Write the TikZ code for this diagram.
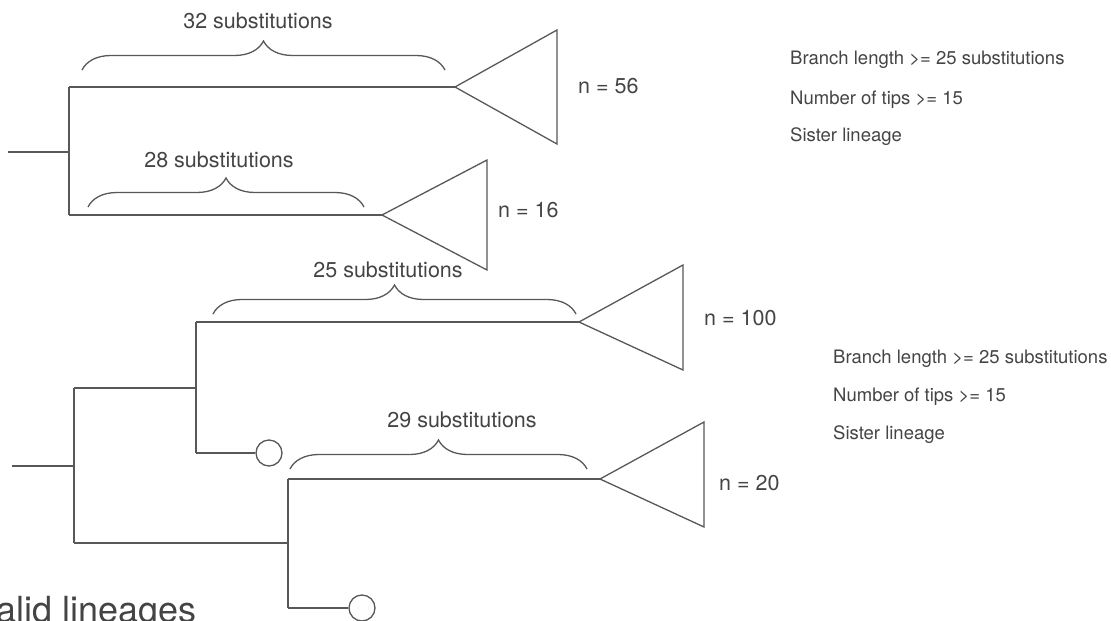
\documentclass[tikz,border=0pt]{standalone}
\usepackage{fontspec}
\setmainfont{TeX Gyre Heros}
\usetikzlibrary{decorations.pathreplacing}
\definecolor{treegray}{HTML}{585858}
\definecolor{textgray}{HTML}{444444}

\begin{document}
\begin{tikzpicture}[x=1pt,y=-1pt]
	\tikzstyle{every node}+=[inner sep=0pt, text=textgray]
	\tikzstyle{branch}=[draw=treegray, line width=1.3pt]
	\tikzstyle{subbrace}=[draw=treegray, line width=1.3pt, decorate, decoration={brace, amplitude=29pt}]
	\tikzstyle{sublabel}=[anchor=base, font=\fontsize{21.5}{25}\selectfont]
	\tikzstyle{countlabel}=[anchor=west, font=\fontsize{21.5}{25}\selectfont]
	\tikzstyle{rule}=[anchor=base west, font=\fontsize{18.5}{22}\selectfont]
	\tikzstyle{tipcircle}=[circle, draw=treegray, line width=1.3pt, fill=white, minimum size=26pt]
	\useasboundingbox (0,0) rectangle (1111,621);
	% upper tree
	\coordinate (r1) at (8,152);
	\coordinate (a1) at (69,152);
	\coordinate (a1u) at (69,87);
	\coordinate (a1d) at (69,215);
	\coordinate (t1) at (455,87);
	\coordinate (t2) at (382,215);
	\draw [branch] (r1) -- (a1);
	\draw [branch] (a1u) -- (a1d);
	\draw [branch] (a1u) -- (t1);
	\draw [branch] (a1d) -- (t2);
	\draw [branch] (t1) -- (557,30) -- (557,144) -- cycle;
	\draw [branch] (t2) -- (487,160) -- (487,270) -- cycle;
	\draw [subbrace] (82,70) -- (445,70);
	\draw [subbrace] (88,207) -- (364,207);
	\node [sublabel] (l32) at (258,28) {32 substitutions};
	\node [sublabel] (l28) at (219,167) {28 substitutions};
	\node [countlabel] (n56) at (578,86) {n = 56};
	\node [countlabel] (n16) at (498,210) {n = 16};
	% lower tree
	\coordinate (r2) at (12,466);
	\coordinate (a2) at (74,466);
	\coordinate (a2u) at (74,388);
	\coordinate (a2d) at (74,543);
	\coordinate (b1) at (196,388);
	\coordinate (b1u) at (196,322);
	\coordinate (b1d) at (196,453);
	\coordinate (b2) at (288,543);
	\coordinate (b2u) at (288,479);
	\coordinate (b2d) at (288,608);
	\coordinate (t3) at (579,322);
	\coordinate (t4) at (600,479);
	\node [tipcircle] (c1) at (269,453) {};
	\node [tipcircle] (c2) at (362,608) {};
	\draw [branch] (r2) -- (a2);
	\draw [branch] (a2u) -- (a2d);
	\draw [branch] (a2u) -- (b1);
	\draw [branch] (a2d) -- (b2);
	\draw [branch] (b1u) -- (b1d);
	\draw [branch] (b2u) -- (b2d);
	\draw [branch] (b1u) -- (t3);
	\draw [branch] (b2u) -- (t4);
	\draw [branch] (b1d) -- (c1);
	\draw [branch] (b2d) -- (c2);
	\draw [branch] (t3) -- (683,265) -- (683,370) -- cycle;
	\draw [branch] (t4) -- (704,422) -- (704,527) -- cycle;
	\draw [subbrace] (213,314) -- (576,314);
	\draw [subbrace] (290,469) -- (587,469);
	\node [sublabel] (l25) at (388,277) {25 substitutions};
	\node [sublabel] (l29) at (462,427) {29 substitutions};
	\node [countlabel] (n100) at (704,318) {n = 100};
	\node [countlabel] (n20) at (719,483) {n = 20};
	% criteria
	\node [rule] (c1a) at (790,64) {Branch length >= 25 substitutions};
	\node [rule] (c1b) at (790,104) {Number of tips >= 15};
	\node [rule] (c1c) at (790,141) {Sister lineage};
	\node [rule] (c2a) at (833,363) {Branch length >= 25 substitutions};
	\node [rule] (c2b) at (833,401) {Number of tips >= 15};
	\node [rule] (c2c) at (833,439) {Sister lineage};
	\node [anchor=base west, font=\fontsize{36}{40}\selectfont] (valid) at (-4,622) {alid lineages};
\end{tikzpicture}
\end{document}
